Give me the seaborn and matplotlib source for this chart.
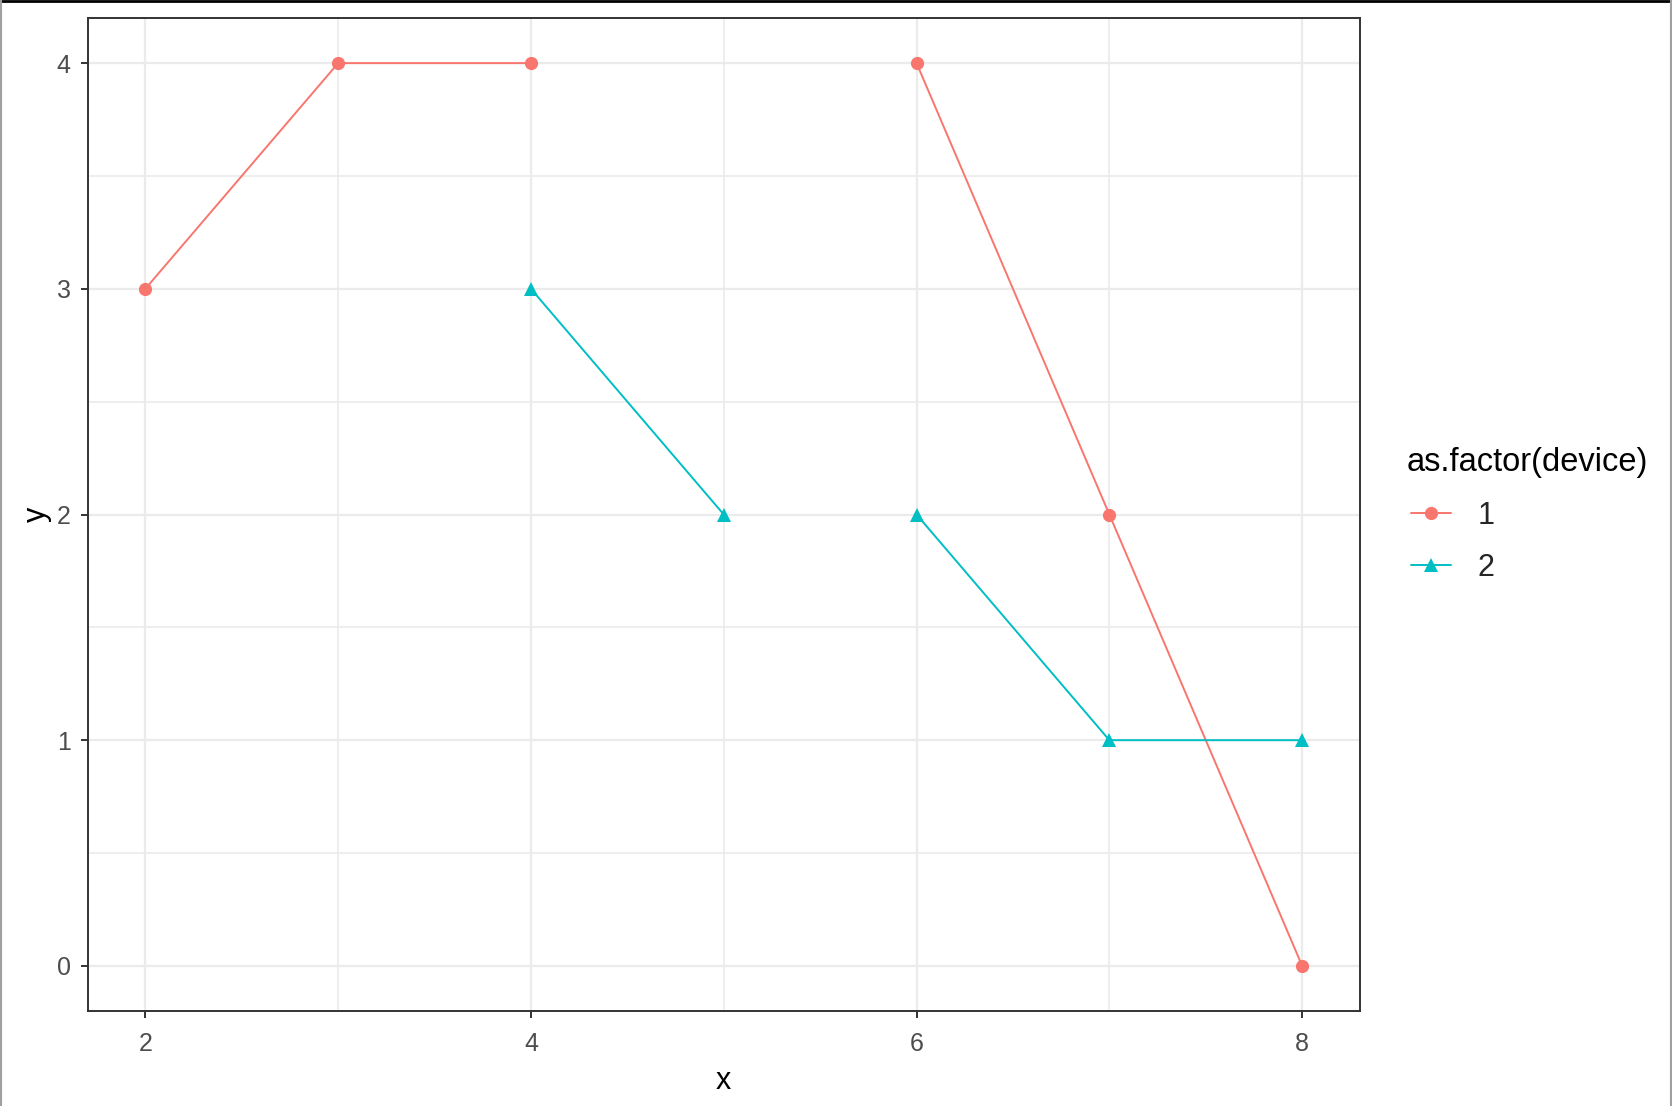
import numpy as np
import pandas as pd
import matplotlib
matplotlib.use("Agg")
import matplotlib.pyplot as plt
import seaborn as sns
from matplotlib.lines import Line2D
from matplotlib.ticker import MultipleLocator

# Datos (cada tramo es un grupo aparte -> línea cortada)
x_vals = [2, 3, 4, 6, 7, 8, 4, 5, 6, 7, 8]
y_vals = [3, 4, 4, 4, 2, 0, 3, 2, 2, 1, 1]
device = [1, 1, 1, 1, 1, 1, 2, 2, 2, 2, 2]
segment = [1, 1, 1, 2, 2, 2, 3, 3, 4, 4, 4]

colores = {1: "#F8766D", 2: "#00BFC4"}
marcadores = {1: "o", 2: "^"}

df = pd.DataFrame({"x": x_vals, "y": y_vals, "device": device, "seg": segment})

sns.set_style("white")
plt.rcParams["font.family"] = ["Liberation Sans", "DejaVu Sans"]

W, H = 1672, 1106
fig = plt.figure(figsize=(W / 100, H / 100), dpi=100)
ax = fig.add_axes([87.5 / W, 1 - 1011 / H, (1360 - 87.5) / W, (1011 - 18) / H])

sns.lineplot(data=df, x="x", y="y", hue="device", style="device", units="seg",
             estimator=None, palette=colores, markers=marcadores, dashes=False,
             linewidth=1.4, markersize=9.5, markeredgewidth=0, legend=False, ax=ax, zorder=3)

ax.set_xlim(1.7, 8.3)
ax.set_ylim(-0.2, 4.2)
ax.xaxis.set_major_locator(MultipleLocator(2))
ax.xaxis.set_minor_locator(MultipleLocator(1))
ax.yaxis.set_major_locator(MultipleLocator(1))
ax.yaxis.set_minor_locator(MultipleLocator(0.5))
ax.grid(which="major", color="#EBEBEB", linewidth=1.6)
ax.grid(which="minor", color="#EBEBEB", linewidth=1.2)
ax.set_axisbelow(True)

for s in ax.spines.values():
    s.set_color("#333333")
    s.set_linewidth(1.4)

ax.tick_params(which="major", direction="out", length=5, width=1.4, color="#333333",
               labelsize=18, labelcolor="#4D4D4D", bottom=True, left=True)
ax.tick_params(axis="x", which="major", pad=10)
ax.tick_params(axis="y", which="major", pad=7)
ax.tick_params(which="minor", length=0)
ax.set_xlabel("x", fontsize=22, color="black", labelpad=7)
ax.set_ylabel("y", fontsize=22, color="black", labelpad=3.5)

# Leyenda (título aparte para controlar la separación)
fig.text(1407 / W, 1 - 462 / H, "as.factor(device)", fontsize=23.5,
         ha="left", va="center", color="black")
handles = [Line2D([0], [0], color=colores[d], marker=marcadores[d], markersize=9.5,
                  markeredgewidth=0, linewidth=1.4) for d in (1, 2)]
fig.legend(handles, ["1", "2"], loc="upper left",
           bbox_to_anchor=(1383 / W, 1 - 473 / H), frameon=False,
           fontsize=22, handlelength=1.34, handletextpad=0.85,
           labelspacing=0.72)

# Bordes de la captura
fig.add_artist(Line2D([0, 1], [1 - 1 / H, 1 - 1 / H], color="black", linewidth=2))
fig.add_artist(Line2D([1 / W, 1 / W], [0, 1], color="#A0A0A0", linewidth=1.5))
fig.add_artist(Line2D([1670.5 / W, 1670.5 / W], [0, 1], color="#A0A0A0", linewidth=1.5))

fig.savefig("out.png", dpi=100)
